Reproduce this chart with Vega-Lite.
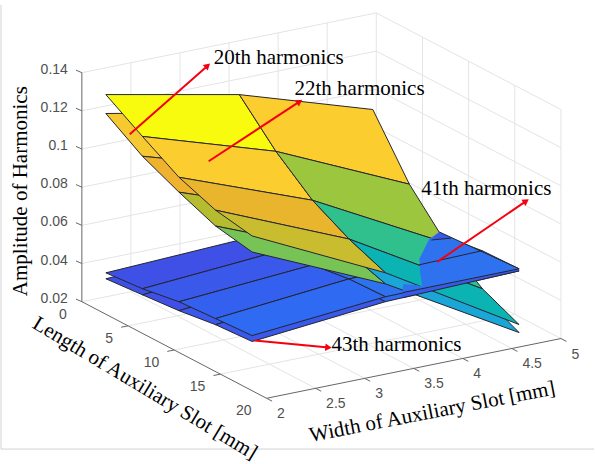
{
"$schema":"https://vega.github.io/schema/vega-lite/v6.json",
"width":595,"height":464,"padding":0,
"autosize":{"type":"fit","contains":"padding"},
"background":"white",
"config":{"view":{"stroke":null}},
"datasets":{
"cells":[
{"cell":"43 r0c0","tone":"b1","width":[2,3.36,3.36,2,2],"length":[2.6,2.6,6.56,6.56,2.6],"amplitude":[0.0386,0.0416,0.0454,0.0402,0.0386],"step":[0,1,2,3,4]},
{"cell":"43 r0c1","tone":"b3","width":[3.36,4.72,4.72,3.36,3.36],"length":[2.6,2.6,6.56,6.56,2.6],"amplitude":[0.0416,0.0457,0.0479,0.0454,0.0416],"step":[0,1,2,3,4]},
{"cell":"43 r1c0","tone":"b1","width":[2,3.36,3.36,2,2],"length":[6.56,6.56,10.52,10.52,6.56],"amplitude":[0.0402,0.0454,0.0486,0.0419,0.0402],"step":[0,1,2,3,4]},
{"cell":"43 r1c1","tone":"b3","width":[3.36,4.72,4.72,3.36,3.36],"length":[6.56,6.56,10.52,10.52,6.56],"amplitude":[0.0454,0.0479,0.0501,0.0486,0.0454],"step":[0,1,2,3,4]},
{"cell":"43 r2c0","tone":"b2","width":[2,3.36,3.36,2,2],"length":[10.52,10.52,14.48,14.48,10.52],"amplitude":[0.0419,0.0486,0.0518,0.0446,0.0419],"step":[0,1,2,3,4]},
{"cell":"43 r2c1","tone":"b4","width":[3.36,4.72,4.72,3.36,3.36],"length":[10.52,10.52,14.48,14.48,10.52],"amplitude":[0.0486,0.0501,0.0522,0.0518,0.0486],"step":[0,1,2,3,4]},
{"cell":"43 r3c0","tone":"b2","width":[2,3.36,3.36,2,2],"length":[14.48,14.48,18.44,18.44,14.48],"amplitude":[0.0446,0.0518,0.0525,0.0458,0.0446],"step":[0,1,2,3,4]},
{"cell":"43 r3c1","tone":"b4","width":[3.36,4.72,4.72,3.36,3.36],"length":[14.48,14.48,18.44,18.44,14.48],"amplitude":[0.0518,0.0522,0.0544,0.0525,0.0518],"step":[0,1,2,3,4]},
{"cell":"41 r0c0","tone":"b1","width":[2,3.36,3.36,2,2],"length":[2.6,2.6,6.56,6.56,2.6],"amplitude":[0.0417,0.0447,0.0485,0.0434,0.0417],"step":[0,1,2,3,4]},
{"cell":"41 r0c1","tone":"b3","width":[3.36,4.72,4.72,3.36,3.36],"length":[2.6,2.6,6.56,6.56,2.6],"amplitude":[0.0447,0.0483,0.0505,0.0485,0.0447],"step":[0,1,2,3,4]},
{"cell":"41 r1c0","tone":"b2","width":[2,3.36,3.36,2,2],"length":[6.56,6.56,10.52,10.52,6.56],"amplitude":[0.0434,0.0485,0.0517,0.0466,0.0434],"step":[0,1,2,3,4]},
{"cell":"41 r1c1","tone":"b3","width":[3.36,4.72,4.72,3.36,3.36],"length":[6.56,6.56,10.52,10.52,6.56],"amplitude":[0.0485,0.0505,0.0521,0.0517,0.0485],"step":[0,1,2,3,4]},
{"cell":"41 r2c0","tone":"b3","width":[2,3.36,3.36,2,2],"length":[10.52,10.52,14.48,14.48,10.52],"amplitude":[0.0466,0.0517,0.0544,0.0478,0.0466],"step":[0,1,2,3,4]},
{"cell":"41 r2c1","tone":"b5","width":[3.36,4.72,4.72,3.36,3.36],"length":[10.52,10.52,14.48,14.48,10.52],"amplitude":[0.0517,0.0521,0.0549,0.0544,0.0517],"step":[0,1,2,3,4]},
{"cell":"41 r3c0","tone":"b4","width":[2,3.36,3.36,2,2],"length":[14.48,14.48,18.44,18.44,14.48],"amplitude":[0.0478,0.0544,0.0551,0.0489,0.0478],"step":[0,1,2,3,4]},
{"cell":"41 r3c1","tone":"b5","width":[3.36,4.72,4.72,3.36,3.36],"length":[14.48,14.48,18.44,18.44,14.48],"amplitude":[0.0544,0.0549,0.0555,0.0551,0.0544],"step":[0,1,2,3,4]},
{"cell":"22 r0c0","tone":"gold2","width":[2,3.36,3.36,2,2],"length":[2.6,2.6,6.56,6.56,2.6],"amplitude":[0.1252,0.1115,0.0918,0.1128,0.1252],"step":[0,1,2,3,4]},
{"cell":"22 r0c1","tone":"gold","width":[3.36,4.72,4.72,3.36,3.36],"length":[2.6,2.6,6.56,6.56,2.6],"amplitude":[0.1115,0.0895,0.0635,0.0918,0.1115],"step":[0,1,2,3,4]},
{"cell":"22 r1c0","tone":"amber2","width":[2,3.36,3.36,2,2],"length":[6.56,6.56,10.52,10.52,6.56],"amplitude":[0.1128,0.0918,0.0794,0.104,0.1128],"step":[0,1,2,3,4]},
{"cell":"22 r1c1","tone":"lime","width":[3.36,4.72,4.72,3.36,3.36],"length":[6.56,6.56,10.52,10.52,6.56],"amplitude":[0.0918,0.0635,0.0459,0.0794,0.0918],"step":[0,1,2,3,4]},
{"cell":"22 r2c0","tone":"olive2","width":[2,3.36,3.36,2,2],"length":[10.52,10.52,14.48,14.48,10.52],"amplitude":[0.104,0.0794,0.068,0.0963,0.104],"step":[0,1,2,3,4]},
{"cell":"22 r2c1","tone":"teal","width":[3.36,4.72,4.72,3.36,3.36],"length":[10.52,10.52,14.48,14.48,10.52],"amplitude":[0.0794,0.0459,0.0314,0.068,0.0794],"step":[0,1,2,3,4]},
{"cell":"22 r3c0","tone":"green","width":[2,3.36,3.36,2,2],"length":[14.48,14.48,18.44,18.44,14.48],"amplitude":[0.0963,0.068,0.0618,0.0927,0.0963],"step":[0,1,2,3,4]},
{"cell":"22 r3c1","tone":"cyan","width":[3.36,4.72,4.72,3.36,3.36],"length":[14.48,14.48,18.44,18.44,14.48],"amplitude":[0.068,0.0314,0.0221,0.0618,0.068],"step":[0,1,2,3,4]},
{"cell":"20 r0c0","tone":"yellow","width":[2,3.36,3.36,2,2],"length":[2.6,2.6,6.56,6.56,2.6],"amplitude":[0.1351,0.1209,0.1012,0.1232,0.1351],"step":[0,1,2,3,4]},
{"cell":"20 r0c1","tone":"gold","width":[3.36,4.72,4.72,3.36,3.36],"length":[2.6,2.6,6.56,6.56,2.6],"amplitude":[0.1209,0.0989,0.0698,0.1012,0.1209],"step":[0,1,2,3,4]},
{"cell":"20 r1c0","tone":"gold","width":[2,3.36,3.36,2,2],"length":[6.56,6.56,10.52,10.52,6.56],"amplitude":[0.1232,0.1012,0.0856,0.1118,0.1232],"step":[0,1,2,3,4]},
{"cell":"20 r1c1","tone":"lime","width":[3.36,4.72,4.72,3.36,3.36],"length":[6.56,6.56,10.52,10.52,6.56],"amplitude":[0.1012,0.0698,0.049,0.0856,0.1012],"step":[0,1,2,3,4]},
{"cell":"20 r2c0","tone":"amber","width":[2,3.36,3.36,2,2],"length":[10.52,10.52,14.48,14.48,10.52],"amplitude":[0.1118,0.0856,0.0753,0.1046,0.1118],"step":[0,1,2,3,4]},
{"cell":"20 r2c1","tone":"sea","width":[3.36,4.72,4.72,3.36,3.36],"length":[10.52,10.52,14.48,14.48,10.52],"amplitude":[0.0856,0.049,0.035,0.0753,0.0856],"step":[0,1,2,3,4]},
{"cell":"20 r3c0","tone":"olive","width":[2,3.36,3.36,2,2],"length":[14.48,14.48,18.44,18.44,14.48],"amplitude":[0.1046,0.0753,0.0676,0.1011,0.1046],"step":[0,1,2,3,4]},
{"cell":"20 r3c1","tone":"teal","width":[3.36,4.72,4.72,3.36,3.36],"length":[14.48,14.48,18.44,18.44,14.48],"amplitude":[0.0753,0.035,0.0263,0.0676,0.0753],"step":[0,1,2,3,4]}
],
"front":[
{"cell":"43 strip","tone":"b2","width":[4.276,5.466,5.466,4.276],"length":[10.52,10.52,10.52,10.52],"amplitude":[0.0276,0.0277,0.0266,0.0249],"step":[0,1,2,3]},
{"cell":"41 front","tone":"b5","width":[4.652,4.55,4.449,4.459,4.479,4.286,4.276,5.466],"length":[10.52,10.52,10.52,10.52,10.52,10.52,10.52,10.52],"amplitude":[0.0555,0.0529,0.0435,0.0356,0.0291,0.0321,0.0276,0.0277],"step":[0,1,2,3,4,5,6,7]},
{"cell":"41 back","tone":"b2","width":[4.652,4.775,4.571],"length":[10.52,10.52,10.52],"amplitude":[0.0555,0.051,0.0521],"step":[0,1,2]}
],
"frame":[
{"part":"grid","width":2.5,"length":0,"amplitude":0.02,"width2":2.5,"length2":0,"amplitude2":0.14},
{"part":"grid","width":3,"length":0,"amplitude":0.02,"width2":3,"length2":0,"amplitude2":0.14},
{"part":"grid","width":3.5,"length":0,"amplitude":0.02,"width2":3.5,"length2":0,"amplitude2":0.14},
{"part":"grid","width":4,"length":0,"amplitude":0.02,"width2":4,"length2":0,"amplitude2":0.14},
{"part":"grid","width":4.5,"length":0,"amplitude":0.02,"width2":4.5,"length2":0,"amplitude2":0.14},
{"part":"grid","width":5,"length":0,"amplitude":0.02,"width2":5,"length2":0,"amplitude2":0.14},
{"part":"grid","width":2,"length":0,"amplitude":0.02,"width2":5,"length2":0,"amplitude2":0.02},
{"part":"grid","width":2,"length":0,"amplitude":0.04,"width2":5,"length2":0,"amplitude2":0.04},
{"part":"grid","width":2,"length":0,"amplitude":0.06,"width2":5,"length2":0,"amplitude2":0.06},
{"part":"grid","width":2,"length":0,"amplitude":0.08,"width2":5,"length2":0,"amplitude2":0.08},
{"part":"grid","width":2,"length":0,"amplitude":0.1,"width2":5,"length2":0,"amplitude2":0.1},
{"part":"grid","width":2,"length":0,"amplitude":0.12,"width2":5,"length2":0,"amplitude2":0.12},
{"part":"grid","width":2,"length":0,"amplitude":0.14,"width2":5,"length2":0,"amplitude2":0.14},
{"part":"grid","width":5,"length":5,"amplitude":0.02,"width2":5,"length2":5,"amplitude2":0.14},
{"part":"grid","width":5,"length":10,"amplitude":0.02,"width2":5,"length2":10,"amplitude2":0.14},
{"part":"grid","width":5,"length":15,"amplitude":0.02,"width2":5,"length2":15,"amplitude2":0.14},
{"part":"grid","width":5,"length":20,"amplitude":0.02,"width2":5,"length2":20,"amplitude2":0.14},
{"part":"grid","width":5,"length":0,"amplitude":0.02,"width2":5,"length2":20,"amplitude2":0.02},
{"part":"grid","width":5,"length":0,"amplitude":0.04,"width2":5,"length2":20,"amplitude2":0.04},
{"part":"grid","width":5,"length":0,"amplitude":0.06,"width2":5,"length2":20,"amplitude2":0.06},
{"part":"grid","width":5,"length":0,"amplitude":0.08,"width2":5,"length2":20,"amplitude2":0.08},
{"part":"grid","width":5,"length":0,"amplitude":0.1,"width2":5,"length2":20,"amplitude2":0.1},
{"part":"grid","width":5,"length":0,"amplitude":0.12,"width2":5,"length2":20,"amplitude2":0.12},
{"part":"grid","width":5,"length":0,"amplitude":0.14,"width2":5,"length2":20,"amplitude2":0.14},
{"part":"grid","width":2.5,"length":0,"amplitude":0.02,"width2":2.5,"length2":20,"amplitude2":0.02},
{"part":"grid","width":3,"length":0,"amplitude":0.02,"width2":3,"length2":20,"amplitude2":0.02},
{"part":"grid","width":3.5,"length":0,"amplitude":0.02,"width2":3.5,"length2":20,"amplitude2":0.02},
{"part":"grid","width":4,"length":0,"amplitude":0.02,"width2":4,"length2":20,"amplitude2":0.02},
{"part":"grid","width":4.5,"length":0,"amplitude":0.02,"width2":4.5,"length2":20,"amplitude2":0.02},
{"part":"grid","width":2,"length":5,"amplitude":0.02,"width2":5,"length2":5,"amplitude2":0.02},
{"part":"grid","width":2,"length":10,"amplitude":0.02,"width2":5,"length2":10,"amplitude2":0.02},
{"part":"grid","width":2,"length":15,"amplitude":0.02,"width2":5,"length2":15,"amplitude2":0.02},
{"part":"axis","width":2,"length":0,"amplitude":0.02,"width2":2,"length2":0,"amplitude2":0.14},
{"part":"axis","width":2,"length":0,"amplitude":0.02,"width2":2,"length2":20,"amplitude2":0.02},
{"part":"axis","width":2,"length":20,"amplitude":0.02,"width2":5,"length2":20,"amplitude2":0.02},
{"part":"axis","width":2,"length":0,"amplitude":0.02,"width2":1.94,"length2":0,"amplitude2":0.022},
{"part":"axis","width":2,"length":0,"amplitude":0.04,"width2":1.94,"length2":0,"amplitude2":0.042},
{"part":"axis","width":2,"length":0,"amplitude":0.06,"width2":1.94,"length2":0,"amplitude2":0.062},
{"part":"axis","width":2,"length":0,"amplitude":0.08,"width2":1.94,"length2":0,"amplitude2":0.082},
{"part":"axis","width":2,"length":0,"amplitude":0.1,"width2":1.94,"length2":0,"amplitude2":0.102},
{"part":"axis","width":2,"length":0,"amplitude":0.12,"width2":1.94,"length2":0,"amplitude2":0.122},
{"part":"axis","width":2,"length":0,"amplitude":0.14,"width2":1.94,"length2":0,"amplitude2":0.142},
{"part":"axis","width":2,"length":5,"amplitude":0.02,"width2":1.93,"length2":5,"amplitude2":0.02},
{"part":"axis","width":2,"length":10,"amplitude":0.02,"width2":1.93,"length2":10,"amplitude2":0.02},
{"part":"axis","width":2,"length":15,"amplitude":0.02,"width2":1.93,"length2":15,"amplitude2":0.02},
{"part":"axis","width":2,"length":20,"amplitude":0.02,"width2":2,"length2":20.6,"amplitude2":0.02},
{"part":"axis","width":2.5,"length":20,"amplitude":0.02,"width2":2.5,"length2":20.6,"amplitude2":0.02},
{"part":"axis","width":3,"length":20,"amplitude":0.02,"width2":3,"length2":20.6,"amplitude2":0.02},
{"part":"axis","width":3.5,"length":20,"amplitude":0.02,"width2":3.5,"length2":20.6,"amplitude2":0.02},
{"part":"axis","width":4,"length":20,"amplitude":0.02,"width2":4,"length2":20.6,"amplitude2":0.02},
{"part":"axis","width":4.5,"length":20,"amplitude":0.02,"width2":4.5,"length2":20.6,"amplitude2":0.02},
{"part":"axis","width":5,"length":20,"amplitude":0.02,"width2":5,"length2":20.6,"amplitude2":0.02},
{"part":"seam","width":4.652,"length":10.52,"amplitude":0.0555,"width2":5.466,"length2":10.52,"amplitude2":0.0277},
{"part":"seam","width":4.449,"length":10.52,"amplitude":0.0404,"width2":5.079,"length2":10.52,"amplitude2":0.0411},
{"part":"seam","width":4.571,"length":10.52,"amplitude":0.0521,"width2":4.775,"length2":10.52,"amplitude2":0.051},
{"part":"seam","width":4.276,"length":10.52,"amplitude":0.0276,"width2":5.466,"length2":10.52,"amplitude2":0.0277},
{"part":"seam","width":4.276,"length":10.52,"amplitude":0.0249,"width2":5.466,"length2":10.52,"amplitude2":0.0266},
{"part":"arrow","width":2.488,"length":0,"amplitude":0.1026,"width2":3.282,"length2":0,"amplitude2":0.1303},
{"part":"arrow","width":3.292,"length":0,"amplitude":0.0801,"width2":4.218,"length2":0,"amplitude2":0.1017},
{"part":"arrow","width":4.681,"length":10,"amplitude":0.0382,"width2":5.586,"length2":10,"amplitude2":0.0606},
{"part":"arrow","width":1.878,"length":20,"amplitude":0.0515,"width2":2.631,"length2":20,"amplitude2":0.04}
],
"labels":[
{"part":"z","text":"0.02","width":2,"length":0,"amplitude":0.02},
{"part":"z","text":"0.04","width":2,"length":0,"amplitude":0.04},
{"part":"z","text":"0.06","width":2,"length":0,"amplitude":0.06},
{"part":"z","text":"0.08","width":2,"length":0,"amplitude":0.08},
{"part":"z","text":"0.1","width":2,"length":0,"amplitude":0.1},
{"part":"z","text":"0.12","width":2,"length":0,"amplitude":0.12},
{"part":"z","text":"0.14","width":2,"length":0,"amplitude":0.14},
{"part":"l","text":"0","width":2,"length":0,"amplitude":0.02},
{"part":"l","text":"5","width":2,"length":5,"amplitude":0.02},
{"part":"l","text":"10","width":2,"length":10,"amplitude":0.02},
{"part":"l","text":"15","width":2,"length":15,"amplitude":0.02},
{"part":"l","text":"20","width":2,"length":20,"amplitude":0.02},
{"part":"w","text":"2","width":2,"length":20,"amplitude":0.02},
{"part":"w","text":"2.5","width":2.5,"length":20,"amplitude":0.02},
{"part":"w","text":"3","width":3,"length":20,"amplitude":0.02},
{"part":"w","text":"3.5","width":3.5,"length":20,"amplitude":0.02},
{"part":"w","text":"4","width":4,"length":20,"amplitude":0.02},
{"part":"w","text":"4.5","width":4.5,"length":20,"amplitude":0.02},
{"part":"w","text":"5","width":5,"length":20,"amplitude":0.02},
{"part":"ztitle","text":"Amplitude of Harmonics","width":1.379,"length":0,"amplitude":0.0844},
{"part":"ltitle","text":"Length of Auxiliary Slot [mm]","width":1.7,"length":10,"amplitude":0.003},
{"part":"wtitle","text":"Width of Auxiliary Slot [mm]","width":3.689,"length":20,"amplitude":-0.0049},
{"part":"note","text":"20th harmonics","width":3.343,"length":0,"amplitude":0.1338},
{"part":"note","text":"22th harmonics","width":4.167,"length":0,"amplitude":0.109},
{"part":"note","text":"41th harmonics","width":5.459,"length":0,"amplitude":0.0429},
{"part":"note","text":"43th harmonics","width":2.661,"length":20,"amplitude":0.0408}
]
},
"encoding":{
"x":{"field":"sx","type":"quantitative","axis":null,"scale":{"domain":[0,595],"nice":false,"zero":false}},
"y":{"field":"sy","type":"quantitative","axis":null,"scale":{"domain":[464,0],"nice":false,"zero":false}}
},
"layer":[
{"data":{"values":[{"sx":1,"sy":5,"sx2":1,"sy2":451},{"sx":1,"sy":451,"sx2":595,"sy2":451}]},
 "mark":{"type":"rule","stroke":"#d2d2d2","strokeWidth":1},
 "encoding":{"x2":{"field":"sx2"},"y2":{"field":"sy2"}}},
{"data":{"name":"frame"},
 "transform":[{"filter":"datum.part==='grid'"},
  {"calculate":"82+98.3*(datum.width-2)+9.25*datum.length","as":"sx"},
  {"calculate":"303-20*(datum.width-2)+4.85*datum.length-1916.67*(datum.amplitude-0.02)","as":"sy"},
  {"calculate":"82+98.3*(datum.width2-2)+9.25*datum.length2","as":"sx2"},
  {"calculate":"303-20*(datum.width2-2)+4.85*datum.length2-1916.67*(datum.amplitude2-0.02)","as":"sy2"}],
 "mark":{"type":"rule","stroke":"#e4e4e4","strokeWidth":1},
 "encoding":{"x2":{"field":"sx2"},"y2":{"field":"sy2"}}},
{"data":{"name":"frame"},
 "transform":[{"filter":"datum.part==='axis'"},
  {"calculate":"82+98.3*(datum.width-2)+9.25*datum.length","as":"sx"},
  {"calculate":"303-20*(datum.width-2)+4.85*datum.length-1916.67*(datum.amplitude-0.02)","as":"sy"},
  {"calculate":"82+98.3*(datum.width2-2)+9.25*datum.length2","as":"sx2"},
  {"calculate":"303-20*(datum.width2-2)+4.85*datum.length2-1916.67*(datum.amplitude2-0.02)","as":"sy2"}],
 "mark":{"type":"rule","stroke":"#666666","strokeWidth":1},
 "encoding":{"x2":{"field":"sx2"},"y2":{"field":"sy2"}}},
{"data":{"name":"cells"},
 "transform":[{"flatten":["width","length","amplitude","step"]},
  {"calculate":"82+98.3*(datum.width-2)+9.25*datum.length","as":"sx"},
  {"calculate":"303-20*(datum.width-2)+4.85*datum.length-1916.67*(datum.amplitude-0.02)","as":"sy"}],
 "mark":{"type":"line","stroke":"#26262e","strokeWidth":1,"strokeJoin":"round","clip":false},
 "encoding":{
  "detail":{"field":"cell"},
  "order":{"field":"step","type":"quantitative"},
  "fill":{"field":"tone","type":"nominal","legend":null,"scale":{
    "domain":["yellow","gold","gold2","amber","amber2","olive","olive2","lime","green","sea","teal","cyan","b1","b2","b3","b4","b5"],
    "range":["#f9fb0e","#fccd2e","#f5c92f","#e8b52d","#eeb22f","#c9bc2f","#b6bc30","#9cc63d","#77c356","#30c08e","#0bb3b3","#1aa6d6","#3f50e6","#3a58ea","#3360ef","#2f6af2","#2f72f0"]}}
 }},
{"data":{"name":"front"},
 "transform":[{"flatten":["width","length","amplitude","step"]},
  {"calculate":"82+98.3*(datum.width-2)+9.25*datum.length","as":"sx"},
  {"calculate":"303-20*(datum.width-2)+4.85*datum.length-1916.67*(datum.amplitude-0.02)","as":"sy"}],
 "mark":{"type":"line","strokeWidth":0,"stroke":null},
 "encoding":{
  "detail":{"field":"cell"},
  "order":{"field":"step","type":"quantitative"},
  "fill":{"field":"tone","type":"nominal","legend":null,"scale":{
    "domain":["yellow","gold","gold2","amber","amber2","olive","olive2","lime","green","sea","teal","cyan","b1","b2","b3","b4","b5"],
    "range":["#f9fb0e","#fccd2e","#f5c92f","#e8b52d","#eeb22f","#c9bc2f","#b6bc30","#9cc63d","#77c356","#30c08e","#0bb3b3","#1aa6d6","#3f50e6","#3a58ea","#3360ef","#2f6af2","#2f72f0"]}}
 }},
{"data":{"name":"frame"},
 "transform":[{"filter":"datum.part==='seam'"},
  {"calculate":"82+98.3*(datum.width-2)+9.25*datum.length","as":"sx"},
  {"calculate":"303-20*(datum.width-2)+4.85*datum.length-1916.67*(datum.amplitude-0.02)","as":"sy"},
  {"calculate":"82+98.3*(datum.width2-2)+9.25*datum.length2","as":"sx2"},
  {"calculate":"303-20*(datum.width2-2)+4.85*datum.length2-1916.67*(datum.amplitude2-0.02)","as":"sy2"}],
 "mark":{"type":"rule","stroke":"#26262e","strokeWidth":1},
 "encoding":{"x2":{"field":"sx2"},"y2":{"field":"sy2"}}},
{"data":{"name":"frame"},
 "transform":[{"filter":"datum.part==='arrow'"},
  {"calculate":"82+98.3*(datum.width-2)+9.25*datum.length","as":"sx"},
  {"calculate":"303-20*(datum.width-2)+4.85*datum.length-1916.67*(datum.amplitude-0.02)","as":"sy"},
  {"calculate":"82+98.3*(datum.width2-2)+9.25*datum.length2","as":"sx2"},
  {"calculate":"303-20*(datum.width2-2)+4.85*datum.length2-1916.67*(datum.amplitude2-0.02)","as":"sy2"}],
 "mark":{"type":"rule","stroke":"#f5000f","strokeWidth":2},
 "encoding":{"x2":{"field":"sx2"},"y2":{"field":"sy2"}}},
{"data":{"name":"frame"},
 "transform":[{"filter":"datum.part==='arrow'"},
  {"calculate":"82+98.3*(datum.width2-2)+9.25*datum.length2","as":"sx"},
  {"calculate":"303-20*(datum.width2-2)+4.85*datum.length2-1916.67*(datum.amplitude2-0.02)","as":"sy"},
  {"calculate":"82+98.3*(datum.width-2)+9.25*datum.length","as":"ax"},
  {"calculate":"303-20*(datum.width-2)+4.85*datum.length-1916.67*(datum.amplitude-0.02)","as":"ay"},
  {"calculate":"atan2(datum.sx-datum.ax,datum.ay-datum.sy)*180/PI","as":"heading"}],
 "mark":{"type":"point","shape":"triangle-up","filled":true,"fill":"#f5000f","stroke":null,"opacity":1,"size":55},
 "encoding":{"angle":{"field":"heading","type":"quantitative","scale":null}}},
{"data":{"name":"labels"},
 "transform":[{"filter":"datum.part==='z'"},
  {"calculate":"82+98.3*(datum.width-2)+9.25*datum.length","as":"sx"},
  {"calculate":"303-20*(datum.width-2)+4.85*datum.length-1916.67*(datum.amplitude-0.02)","as":"sy"}],
 "mark":{"type":"text","align":"right","baseline":"middle","dx":-14,"dy":-3,"font":"Liberation Sans","fontSize":14,"fill":"#505050"},
 "encoding":{"text":{"field":"text"}}},
{"data":{"name":"labels"},
 "transform":[{"filter":"datum.part==='l'"},
  {"calculate":"82+98.3*(datum.width-2)+9.25*datum.length","as":"sx"},
  {"calculate":"303-20*(datum.width-2)+4.85*datum.length-1916.67*(datum.amplitude-0.02)","as":"sy"}],
 "mark":{"type":"text","align":"right","baseline":"middle","dx":-15,"dy":13,"font":"Liberation Sans","fontSize":14,"fill":"#505050"},
 "encoding":{"text":{"field":"text"}}},
{"data":{"name":"labels"},
 "transform":[{"filter":"datum.part==='w'"},
  {"calculate":"82+98.3*(datum.width-2)+9.25*datum.length","as":"sx"},
  {"calculate":"303-20*(datum.width-2)+4.85*datum.length-1916.67*(datum.amplitude-0.02)","as":"sy"}],
 "mark":{"type":"text","align":"left","baseline":"middle","dx":10.5,"dy":16,"font":"Liberation Sans","fontSize":14,"fill":"#505050"},
 "encoding":{"text":{"field":"text"}}},
{"data":{"name":"labels"},
 "transform":[{"filter":"datum.part==='ztitle'"},
  {"calculate":"82+98.3*(datum.width-2)+9.25*datum.length","as":"sx"},
  {"calculate":"303-20*(datum.width-2)+4.85*datum.length-1916.67*(datum.amplitude-0.02)","as":"sy"}],
 "mark":{"type":"text","align":"center","baseline":"middle","angle":270,"font":"Liberation Serif","fontSize":21,"fill":"#000000"},
 "encoding":{"text":{"field":"text"}}},
{"data":{"name":"labels"},
 "transform":[{"filter":"datum.part==='ltitle'"},
  {"calculate":"82+98.3*(datum.width-2)+9.25*datum.length","as":"sx"},
  {"calculate":"303-20*(datum.width-2)+4.85*datum.length-1916.67*(datum.amplitude-0.02)","as":"sy"}],
 "mark":{"type":"text","align":"center","baseline":"middle","angle":31,"font":"Liberation Serif","fontSize":21,"fill":"#000000"},
 "encoding":{"text":{"field":"text"}}},
{"data":{"name":"labels"},
 "transform":[{"filter":"datum.part==='wtitle'"},
  {"calculate":"82+98.3*(datum.width-2)+9.25*datum.length","as":"sx"},
  {"calculate":"303-20*(datum.width-2)+4.85*datum.length-1916.67*(datum.amplitude-0.02)","as":"sy"}],
 "mark":{"type":"text","align":"center","baseline":"middle","angle":349,"font":"Liberation Serif","fontSize":21,"fill":"#000000"},
 "encoding":{"text":{"field":"text"}}},
{"data":{"name":"labels"},
 "transform":[{"filter":"datum.part==='note'"},
  {"calculate":"82+98.3*(datum.width-2)+9.25*datum.length","as":"sx"},
  {"calculate":"303-20*(datum.width-2)+4.85*datum.length-1916.67*(datum.amplitude-0.02)","as":"sy"}],
 "mark":{"type":"text","align":"left","baseline":"middle","font":"Liberation Serif","fontSize":21,"fill":"#000000"},
 "encoding":{"text":{"field":"text"}}}
]
}
